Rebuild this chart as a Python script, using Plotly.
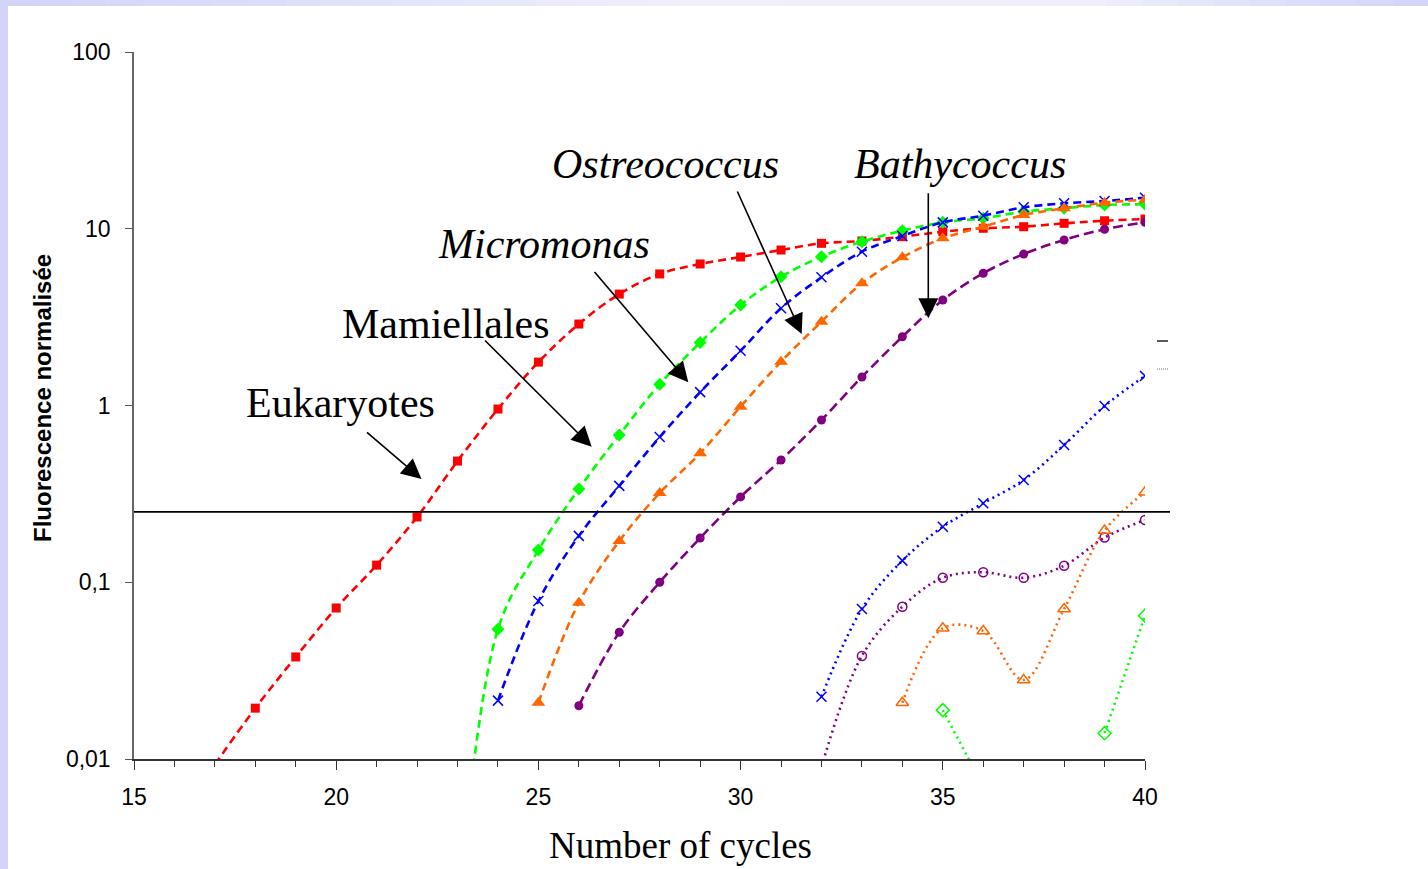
import math
import plotly.graph_objects as go

# ---------------- data ----------------
cycles = list(range(15, 41))

def series(start, vals):
    """Map a list of values starting at cycle `start` onto the full cycle list."""
    out = [None] * len(cycles)
    for i, v in enumerate(vals):
        out[start - 15 + i] = v
    return out

# filled markers, dashed lines (samples)
eukaryotes = series(17, [0.0093, 0.0194, 0.0378, 0.0715, 0.125, 0.234, 0.485, 0.955,
                         1.76, 2.89, 4.27, 5.55, 6.32, 6.92, 7.58, 8.27, 8.53, 9.02,
                         9.62, 10.06, 10.27, 10.73, 11.1, 11.35])
mamiellales = series(23, [0.0012, 0.0542, 0.152, 0.337, 0.681, 1.32, 2.27, 3.70, 5.35,
                          6.95, 8.45, 9.75, 10.87, 11.46, 12.5, 13.06, 13.63, 13.75])
micromonas = series(24, [0.0214, 0.0783, 0.183, 0.351, 0.663, 1.19, 2.04, 3.55, 5.31,
                         7.42, 9.10, 10.87, 11.86, 13.22, 13.93, 14.35, 14.99])
ostreococcus = series(25, [0.0208, 0.0766, 0.171, 0.320, 0.537, 0.985, 1.77, 2.98, 4.91,
                           6.89, 8.83, 10.27, 11.96, 13.06, 14.04, 14.6])
bathycoccus = series(26, [0.0200, 0.0521, 0.100, 0.178, 0.304, 0.492, 0.828, 1.45, 2.45,
                          3.95, 5.60, 7.19, 8.64, 9.93, 10.87])

# open markers, dotted lines (controls)
micromonas_ctrl = series(32, [0.0225, 0.0706, 0.1325, 0.206, 0.280, 0.379, 0.598, 0.993, 1.47])
bathycoccus_ctrl = series(32, [0.009, 0.0383, 0.0727, 0.106, 0.114, 0.106, 0.124, 0.179, 0.225])
ostreococcus_ctrl = series(34, [0.0208, 0.0549, 0.0530, 0.0280, 0.0706, 0.196, 0.323])
mamiellales_ctrl = series(35, [0.0189, 0.007, None, None, 0.0140, 0.0647])

threshold = 0.25

y_tickvals = [0.01, 0.1, 1, 10, 100]
y_ticktext = ["0,01", "0,1", "1", "10", "100"]
x_tickvals = [15, 20, 25, 30, 35, 40]

RED = "#FF0000"
GREEN = "#00FF00"
BLUE = "#0000FF"
ORANGE = "#FF6600"
PURPLE = "#800080"

fig = go.Figure()

def add(y, color, symbol, size, dash, width=2.6, open_=False, lw=1.5):
    marker = dict(symbol=symbol, size=size, color=color,
                  line=dict(color=color, width=lw if (open_ or "x" in symbol) else 0))
    fig.add_trace(go.Scatter(
        x=cycles, y=y, mode="lines+markers",
        line=dict(color=color, width=width, dash=dash, shape="spline", smoothing=1.0),
        marker=marker, connectgaps=False, showlegend=False, hoverinfo="x+y"))

DASH = "8px,5px"
DOT = "2px,4px"
add(eukaryotes, RED, "square", 9, DASH)
add(mamiellales, GREEN, "diamond", 10, DASH)
add(micromonas, BLUE, "x-thin", 10, DASH)
add(ostreococcus, ORANGE, "triangle-up", 12, DASH)
add(bathycoccus, PURPLE, "circle", 9, "10px,5px")

add(micromonas_ctrl, BLUE, "x-thin", 10, DOT, open_=True)
add(bathycoccus_ctrl, PURPLE, "circle-open", 9, DOT, open_=True)
add(ostreococcus_ctrl, ORANGE, "triangle-up-open", 11, DOT, open_=True)
add(mamiellales_ctrl, GREEN, "diamond-open", 10, DOT, open_=True)

# ---------------- layout geometry ----------------
L, R, T, B = 134, 283, 52, 110
W, H = 1428, 869
PW, PH = W - L - R, H - T - B

def px(x):
    return (x - L) / PW

def py(y):
    return (H - B - y) / PH

shapes = []
# threshold line (extends slightly past the last cycle, as in the original)
thr_y = (math.log10(threshold) + 2) / 4
shapes.append(dict(type="line", xref="paper", yref="paper", x0=0, x1=px(1170),
                   y0=thr_y, y1=thr_y, line=dict(color="black", width=1.6)))
# leftover legend strokes at the right
shapes.append(dict(type="line", xref="paper", yref="paper", x0=px(1157), x1=px(1168),
                   y0=py(341), y1=py(341), line=dict(color="#222222", width=1.5)))
shapes.append(dict(type="line", xref="paper", yref="paper", x0=px(1157), x1=px(1168),
                   y0=py(369), y1=py(369), line=dict(color="#777777", width=1.2, dash="1px,1px")))

# lavender slide border (top band gradient + left band)
def lerp(c1, c2, t):
    return tuple(round(a + (b - a) * t) for a, b in zip(c1, c2))

stops = [(0, (210, 210, 248)), (700, (240, 240, 252)), (1100, (238, 238, 252)), (1428, (210, 210, 250))]
nseg = 40
for i in range(nseg):
    x0p = W * i / nseg
    x1p = W * (i + 1) / nseg
    xm = (x0p + x1p) / 2
    for (a, ca), (b, cb) in zip(stops[:-1], stops[1:]):
        if a <= xm <= b:
            c = lerp(ca, cb, (xm - a) / (b - a))
            break
    shapes.append(dict(type="rect", xref="paper", yref="paper", x0=px(x0p), x1=px(x1p + 0.5),
                       y0=py(6), y1=py(0), line=dict(width=0), fillcolor="rgb(%d,%d,%d)" % c,
                       layer="below"))
shapes.append(dict(type="rect", xref="paper", yref="paper", x0=px(0), x1=px(8),
                   y0=py(H), y1=py(0), line=dict(width=0), fillcolor="rgb(212,212,250)",
                   layer="below"))

SERIF = "Liberation Serif, Times New Roman, serif"
SANS = "Liberation Sans, Arial, sans-serif"

annotations = []
labels = [
    ("Eukaryotes", 340, 404, False),
    ("Mamiellales", 446, 325, False),
    ("Micromonas", 544, 245, True),
    ("Ostreococcus", 665, 165, True),
    ("Bathycoccus", 960, 165, True),
]
for txt, cx, cy, ital in labels:
    annotations.append(dict(text=txt, xref="paper", yref="paper", x=px(cx), y=py(cy - 1),
                            xanchor="center", yanchor="middle", showarrow=False,
                            font=dict(family=SERIF, size=42, color="black",
                                      style="italic" if ital else "normal")))

arrows = [
    (421.5, 479, 365.5, 431),
    (591.7, 446.7, 483.5, 339),
    (688.3, 382.3, 593.3, 270.5),
    (801.7, 334, 736.7, 190),
    (928.3, 318.3, 928.3, 191.7),
]
for tx, ty, sx, sy in arrows:
    annotations.append(dict(text="", xref="paper", yref="paper", x=px(tx), y=py(ty),
                            ax=sx - tx, ay=sy - ty, axref="pixel", ayref="pixel",
                            showarrow=True, arrowhead=2, arrowsize=2.5, arrowwidth=1.6,
                            arrowcolor="black", standoff=0))

annotations.append(dict(text="Number of cycles", xref="paper", yref="paper",
                        x=px(680), y=py(845), xanchor="center", yanchor="middle",
                        showarrow=False, font=dict(family=SERIF, size=37, color="black")))
annotations.append(dict(text="<b>Fluorescence normalisée</b>", xref="paper", yref="paper",
                        x=px(42), y=py(398), xanchor="center", yanchor="middle", textangle=-90,
                        showarrow=False, font=dict(family=SANS, size=24, color="black")))

fig.update_layout(
    width=W, height=H,
    margin=dict(l=L, r=R, t=T, b=B, pad=0),
    paper_bgcolor="white", plot_bgcolor="white",
    shapes=shapes, annotations=annotations, showlegend=False,
    xaxis=dict(range=[15, 40], tickvals=x_tickvals, ticks="outside", ticklen=9,
               tickwidth=1.2, tickcolor="#333333", showline=True, linecolor="#333333",
               linewidth=1.5, showgrid=False, zeroline=False,
               minor=dict(dtick=1, tick0=15, ticks="outside", ticklen=6, tickwidth=1,
                          tickcolor="#333333", showgrid=False),
               tickfont=dict(family=SANS, size=23, color="black"), ticklabelstandoff=8),
    yaxis=dict(type="log", range=[-2, 2], tickvals=y_tickvals, ticktext=y_ticktext,
               ticks="outside", ticklen=7, tickwidth=1.2, tickcolor="#555555",
               showline=True, linecolor="#666666", linewidth=1.5, showgrid=False,
               zeroline=False, tickfont=dict(family=SANS, size=23, color="black"),
               ticklabelstandoff=10),
)

fig.write_html("out.html")
